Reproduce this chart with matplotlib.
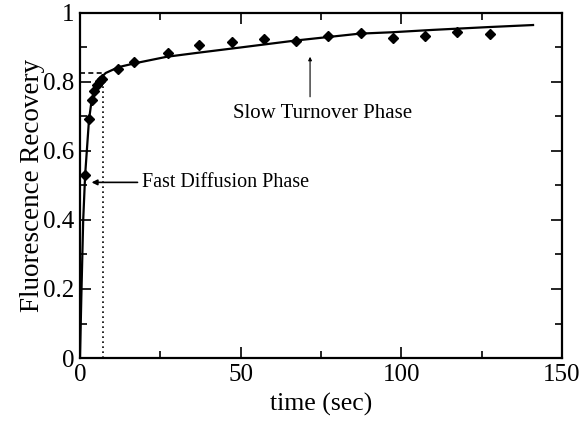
import numpy as np
import matplotlib.pyplot as plt
from matplotlib.ticker import MultipleLocator

plt.rcParams['font.family'] = ['Liberation Serif', 'DejaVu Serif']

# measured recovery (diamonds)
t_data = [1.6, 2.8, 3.6, 4.4, 5.3, 6.2, 6.9, 11.9, 16.9, 27.3, 37.1,
          47.2, 57.3, 67.2, 77.3, 87.4, 97.5, 107.4, 117.4, 127.6]
rec_data = [0.530, 0.693, 0.748, 0.775, 0.791, 0.804, 0.810, 0.838, 0.857,
            0.883, 0.906, 0.915, 0.925, 0.919, 0.934, 0.941, 0.927, 0.932,
            0.944, 0.939]

# two-phase fit curve
t_fit = [0.0, 0.4, 1.0, 1.6, 2.8, 3.6, 4.5, 5.5, 6.5, 8.0, 12.0, 17.0,
         27.0, 37.0, 50.0, 67.0, 87.0, 97.0, 110.0, 127.0, 141.0]
rec_fit = [0.0, 0.17, 0.40, 0.53, 0.69, 0.745, 0.776, 0.797, 0.812, 0.826,
           0.843, 0.854, 0.873, 0.885, 0.900, 0.920, 0.940, 0.944, 0.951,
           0.959, 0.965]

t_cross = 7.2      # end of fast phase
rec_cross = 0.825

fig = plt.figure(figsize=(5.86, 4.26), dpi=100)
ax = fig.add_axes([0.1365, 0.1596, 0.8225, 0.81])

ax.plot(t_fit, rec_fit, color='black', lw=1.6)
ax.plot(t_data, rec_data, 'D', color='black', ms=5.5)

ax.plot([0, t_cross], [rec_cross, rec_cross], color='black', lw=1.2, ls=(0, (3, 2)))
ax.plot([t_cross, t_cross], [0, rec_cross], color='black', lw=1.2, ls=(0, (1, 2)))

ax.annotate('Fast Diffusion Phase', xy=(3.6, 0.509), xytext=(19.2, 0.509),
            fontsize=14.5, va='center', ha='left',
            arrowprops=dict(arrowstyle='-|>', color='black', lw=1.2,
                            mutation_scale=8, shrinkA=1, shrinkB=0))
ax.annotate('', xy=(71.6, 0.873), xytext=(71.6, 0.757),
            arrowprops=dict(arrowstyle='-|>', color='black', lw=0.8,
                            mutation_scale=5, shrinkA=0, shrinkB=0))
ax.text(75.4, 0.71, 'Slow Turnover Phase', fontsize=15, ha='center', va='center')

ax.set_xlim(0, 150)
ax.set_ylim(0, 1)
ax.xaxis.set_major_locator(MultipleLocator(50))
ax.xaxis.set_minor_locator(MultipleLocator(25))
ax.yaxis.set_major_locator(MultipleLocator(0.2))
ax.yaxis.set_minor_locator(MultipleLocator(0.1))
ax.set_xticks([0, 50, 100, 150])
ax.set_xticklabels(['0', '50', '100', '150'])
ax.set_yticks([0, 0.2, 0.4, 0.6, 0.8, 1])
ax.set_yticklabels(['0', '0.2', '0.4', '0.6', '0.8', '1'])
ax.tick_params(which='both', direction='in', top=True, right=True, labelsize=18, width=1.2)
ax.tick_params(which='major', length=8, pad=4)
ax.tick_params(which='minor', length=5)
for s in ax.spines.values():
    s.set_linewidth(1.6)

ax.set_xlabel('time (sec)', fontsize=18.5, labelpad=5)
ax.set_ylabel('Fluorescence Recovery', fontsize=19.5, labelpad=-1)

fig.savefig('out.png', dpi=100)
